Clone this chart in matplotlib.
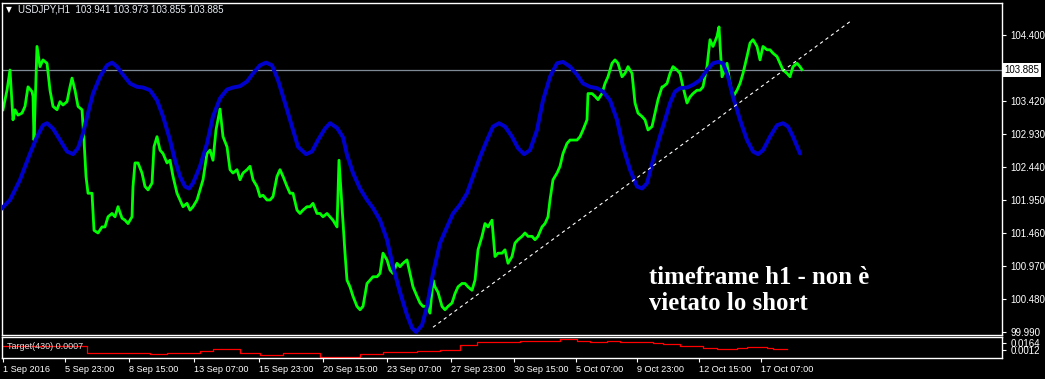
import matplotlib
matplotlib.use("Agg")
import matplotlib.pyplot as plt

# price axis ticks (right side)
price_ticks = [104.400, 103.420, 102.930, 102.440, 101.950, 101.460, 100.970, 100.480, 99.990]
last_price = 103.885

# time axis (bar index -> label)
time_pos = [3, 65, 129, 194, 259, 323, 387, 451, 514, 576, 637, 699, 761]
time_labels = ["1 Sep 2016", "5 Sep 23:00", "8 Sep 15:00", "13 Sep 07:00", "15 Sep 23:00",
               "20 Sep 15:00", "23 Sep 07:00", "27 Sep 23:00", "30 Sep 15:00", "5 Oct 07:00",
               "9 Oct 23:00", "12 Oct 15:00", "17 Oct 07:00"]

# USDJPY H1 price (approximate closes)
green_x = [3, 7, 10, 13, 15, 18, 22, 25, 28, 32, 33, 34, 37, 40, 43, 47, 50, 53, 57, 60,
           63, 67, 70, 72, 75, 78, 82, 84, 86, 88, 92, 94, 98, 102, 105, 108, 112, 115, 118, 122,
           125, 128, 132, 133, 135, 138, 142, 145, 148, 152, 154, 157, 160, 163, 167, 170, 173, 177, 180, 183,
           187, 190, 193, 197, 200, 203, 207, 210, 213, 216, 220, 223, 227, 230, 233, 237, 240, 243, 247, 250,
           253, 257, 260, 263, 267, 270, 273, 277, 280, 283, 287, 290, 293, 297, 300, 303, 307, 310, 313, 317,
           320, 323, 327, 330, 333, 337, 339, 342, 345, 347, 350, 353, 357, 360, 363, 367, 370, 373, 377, 380,
           383, 387, 390, 393, 397, 400, 403, 407, 410, 413, 417, 420, 423, 427, 430, 433, 435, 438, 442, 445,
           448, 452, 455, 458, 462, 465, 468, 472, 475, 478, 482, 485, 488, 492, 493, 495, 498, 502, 505, 508,
           512, 515, 518, 522, 525, 528, 532, 535, 538, 542, 545, 548, 550, 553, 557, 560, 563, 567, 570, 573,
           577, 580, 583, 587, 588, 592, 595, 598, 602, 605, 608, 612, 615, 618, 622, 625, 628, 632, 635, 638,
           642, 645, 648, 652, 655, 658, 662, 663, 667, 670, 673, 677, 680, 683, 687, 690, 693, 697, 700, 703,
           707, 710, 713, 717, 719, 722, 725, 727, 730, 733, 737, 740, 743, 747, 750, 753, 757, 760, 763, 767,
           770, 773, 777, 780, 783, 787, 790, 793, 797, 800, 802]
green_y = [103.29, 103.58, 103.88, 103.14, 103.29, 103.21, 103.24, 103.34, 103.63, 103.56, 103.49, 102.84, 104.23, 103.93, 104.03, 103.98, 103.58, 103.34, 103.29, 103.41,
           103.36, 103.41, 103.63, 103.76, 103.58, 103.34, 103.29, 102.84, 102.30, 102.05, 102.05, 101.50, 101.46, 101.55, 101.55, 101.70, 101.75, 101.70, 101.85, 101.68,
           101.65, 101.60, 101.70, 102.15, 102.50, 102.50, 102.35, 102.15, 102.10, 102.20, 102.74, 102.89, 102.69, 102.64, 102.50, 102.54, 102.30, 102.05, 101.95, 101.85,
           101.90, 101.80, 101.85, 101.95, 102.10, 102.25, 102.64, 102.69, 102.54, 102.99, 103.30, 102.89, 102.74, 102.40, 102.35, 102.40, 102.25, 102.35, 102.40, 102.45,
           102.25, 102.15, 102.00, 102.02, 101.95, 101.95, 102.00, 102.30, 102.40, 102.30, 102.15, 102.05, 102.05, 101.80, 101.75, 101.80, 101.85, 101.85, 101.90, 101.75,
           101.75, 101.70, 101.75, 101.70, 101.65, 101.55, 102.54, 101.85, 101.16, 100.76, 100.66, 100.52, 100.37, 100.32, 100.37, 100.71, 100.76, 100.81, 100.81, 100.86,
           101.16, 101.06, 100.91, 100.86, 101.01, 100.96, 101.01, 101.06, 100.86, 100.66, 100.52, 100.42, 100.37, 100.37, 100.27, 100.76, 100.66, 100.58, 100.37, 100.32,
           100.37, 100.42, 100.56, 100.66, 100.71, 100.71, 100.66, 100.61, 100.76, 101.21, 101.41, 101.60, 101.55, 101.65, 101.46, 101.11, 101.16, 101.16, 101.21, 101.01,
           101.11, 101.31, 101.36, 101.41, 101.46, 101.41, 101.41, 101.36, 101.41, 101.55, 101.60, 101.70, 101.95, 102.25, 102.35, 102.45, 102.64, 102.79, 102.84, 102.84,
           102.84, 102.89, 102.99, 103.14, 103.53, 103.53, 103.49, 103.44, 103.53, 103.68, 103.78, 103.98, 104.03, 103.98, 103.78, 103.83, 103.93, 103.83, 103.39, 103.24,
           103.19, 103.14, 102.99, 103.04, 103.24, 103.44, 103.63, 103.63, 103.68, 103.83, 103.93, 103.88, 103.83, 103.63, 103.39, 103.48, 103.53, 103.58, 103.58, 103.63,
           103.93, 104.33, 104.23, 104.38, 104.52, 103.78, 103.88, 103.98, 103.68, 103.48, 103.58, 103.68, 103.83, 104.08, 104.28, 104.33, 104.23, 104.03, 104.23, 104.18,
           104.18, 104.13, 104.08, 103.98, 103.88, 103.83, 103.78, 103.93, 103.98, 103.93, 103.885]

# smooth blue projection curve
blue_x = [0, 10, 20, 30, 37, 43, 47, 53, 60, 67, 73, 78, 83, 88, 93, 100, 107, 112, 117, 123,
          130, 137, 143, 150, 157, 163, 170, 175, 180, 185, 189, 193, 200, 207, 213, 220, 227, 233, 240, 247,
          253, 260, 266, 272, 278, 285, 292, 298, 306, 312, 318, 325, 330, 337, 343, 347, 353, 360, 367, 373,
          380, 387, 393, 400, 407, 412, 416, 422, 427, 433, 440, 447, 453, 460, 467, 473, 480, 487, 493, 499,
          505, 512, 518, 524, 530, 537, 543, 550, 557, 563, 570, 577, 583, 590, 597, 603, 610, 617, 623, 630,
          637, 642, 647, 653, 660, 665, 670, 675, 680, 687, 693, 700, 707, 713, 718, 723, 728, 733, 740, 747,
          753, 758, 763, 770, 777, 783, 788, 793, 800]
blue_y = [101.80, 101.95, 102.25, 102.64, 102.89, 103.06, 103.09, 103.01, 102.84, 102.67, 102.63, 102.72, 102.94, 103.24, 103.53, 103.78, 103.95, 103.99, 103.93, 103.81,
          103.68, 103.63, 103.62, 103.58, 103.43, 103.19, 102.84, 102.54, 102.30, 102.15, 102.12, 102.20, 102.45, 102.79, 103.19, 103.46, 103.59, 103.62, 103.64, 103.71,
          103.83, 103.95, 103.99, 103.95, 103.73, 103.39, 103.04, 102.74, 102.63, 102.67, 102.84, 103.01, 103.09, 103.02, 102.88, 102.62, 102.35, 102.12, 101.95, 101.83,
          101.65, 101.36, 100.96, 100.58, 100.24, 100.05, 99.99, 100.09, 100.37, 100.86, 101.31, 101.55, 101.75, 101.88, 102.05, 102.30, 102.59, 102.84, 103.04, 103.09,
          103.04, 102.89, 102.72, 102.63, 102.69, 102.99, 103.43, 103.78, 103.98, 104.00, 103.93, 103.81, 103.68, 103.63, 103.61, 103.56, 103.43, 103.14, 102.74, 102.40,
          102.15, 102.12, 102.20, 102.54, 102.90, 103.14, 103.39, 103.56, 103.61, 103.62, 103.66, 103.73, 103.88, 103.98, 104.00, 103.98, 103.78, 103.48, 103.14, 102.84,
          102.67, 102.63, 102.69, 102.89, 103.06, 103.09, 103.04, 102.89, 102.64]

# dashed trendline end points
trend_x = [433, 852]
trend_y = [100.06, 104.62]

# Target(430) indicator (red, step line)
red_x = [3, 83, 87, 110, 150, 167, 200, 213, 240, 260, 283, 320, 360, 383, 417, 440, 460, 477,
         500, 520, 560, 577, 590, 607, 620, 653, 663, 680, 703, 717, 737, 747, 767, 773, 787]
red_v = [0.0095, 0.0095, -0.0060, -0.0046, -0.0082, -0.0060, -0.0002, 0.0026, -0.0046, -0.0097, -0.0060, -0.0133, -0.0082, -0.0039, -0.0010, 0.0012, 0.0121, 0.0193,
         0.0193, 0.0215, 0.0244, 0.0215, 0.0178, 0.0208, 0.0186, 0.0171, 0.0135, 0.0099, 0.0055, 0.0026, 0.0048, 0.0070, 0.0048, 0.0026, 0.0026]
red_ticks = [0.0164, 0.0012]

W, H = 1045, 379
UI_FONT = ["Liberation Sans", "DejaVu Sans"]
fig = plt.figure(figsize=(W / 100, H / 100), dpi=100, facecolor="black")

def px_rect(x0, y0, x1, y1):
    return [x0 / W, 1 - y1 / H, (x1 - x0) / W, (y1 - y0) / H]

ax = fig.add_axes(px_rect(2, 3, 1002, 335), facecolor="black")
ax2 = fig.add_axes(px_rect(2, 337, 1002, 358), facecolor="black")

for a in (ax, ax2):
    for s in a.spines.values():
        s.set_color("white")
        s.set_linewidth(1.0)
    a.set_xlim(2, 1002)

# main price panel
ax.axhline(last_price, color="#7f8a96", lw=0.9, zorder=1)
ax.plot(green_x, green_y, color="#00ff00", lw=2.0, zorder=2)
ax.plot(blue_x, blue_y, color="#0000cc", lw=2.8, zorder=3, solid_capstyle="round")
ax.plot(trend_x, trend_y, color="white", lw=0.8, dashes=(3, 3), zorder=4)
ax.set_ylim(99.945, 104.875)
ax.yaxis.tick_right()
ax.set_yticks(price_ticks)
ax.set_yticklabels([f"{v:.3f}" for v in price_ticks], family=UI_FONT)
ax.tick_params(axis="y", colors="white", labelsize=7, length=3, pad=3, direction="out")
ax.set_xticks([])

ax.text(1.002, last_price, f"{last_price:.3f}", transform=ax.get_yaxis_transform(),
        color="black", fontsize=7, family=UI_FONT, va="center", ha="left",
        bbox=dict(facecolor="white", edgecolor="none", pad=1.5))

ax.text(649, 100.32, "timeframe h1 - non è\nvietato lo short", color="white",
        fontsize=17.8, family="Liberation Serif", fontweight="bold", linespacing=1.15,
        va="baseline", ha="left")

# indicator panel
ax2.step(red_x, red_v, where="post", color="#ff0000", lw=0.9)
ax2.set_ylim(-0.0162, 0.0294)
ax2.yaxis.tick_right()
ax2.set_yticks(red_ticks)
ax2.set_yticklabels([f"{v:.4f}" for v in red_ticks], family=UI_FONT)
ax2.tick_params(axis="y", colors="white", labelsize=7, length=3, pad=3)
ax2.set_xticks(time_pos)
ax2.set_xticklabels(time_labels, ha="left", family=UI_FONT)
ax2.tick_params(axis="x", colors="white", labelsize=6.6, length=3, pad=2)
ax2.text(0.005, 0.55, "Target(430) 0.0007", transform=ax2.transAxes, color="#dddddd",
         fontsize=6.5, family=UI_FONT, va="center", ha="left")

# header
fig.text(6 / W, 1 - 10 / H, "▼", color="white", fontsize=5.5, va="center", ha="left")
fig.text(18 / W, 1 - 10 / H, "USDJPY,H1  103.941 103.973 103.855 103.885", color="#e8eef5",
         fontsize=7, family=UI_FONT, va="center", ha="left")

fig.savefig("out.png", dpi=100, facecolor="black")
